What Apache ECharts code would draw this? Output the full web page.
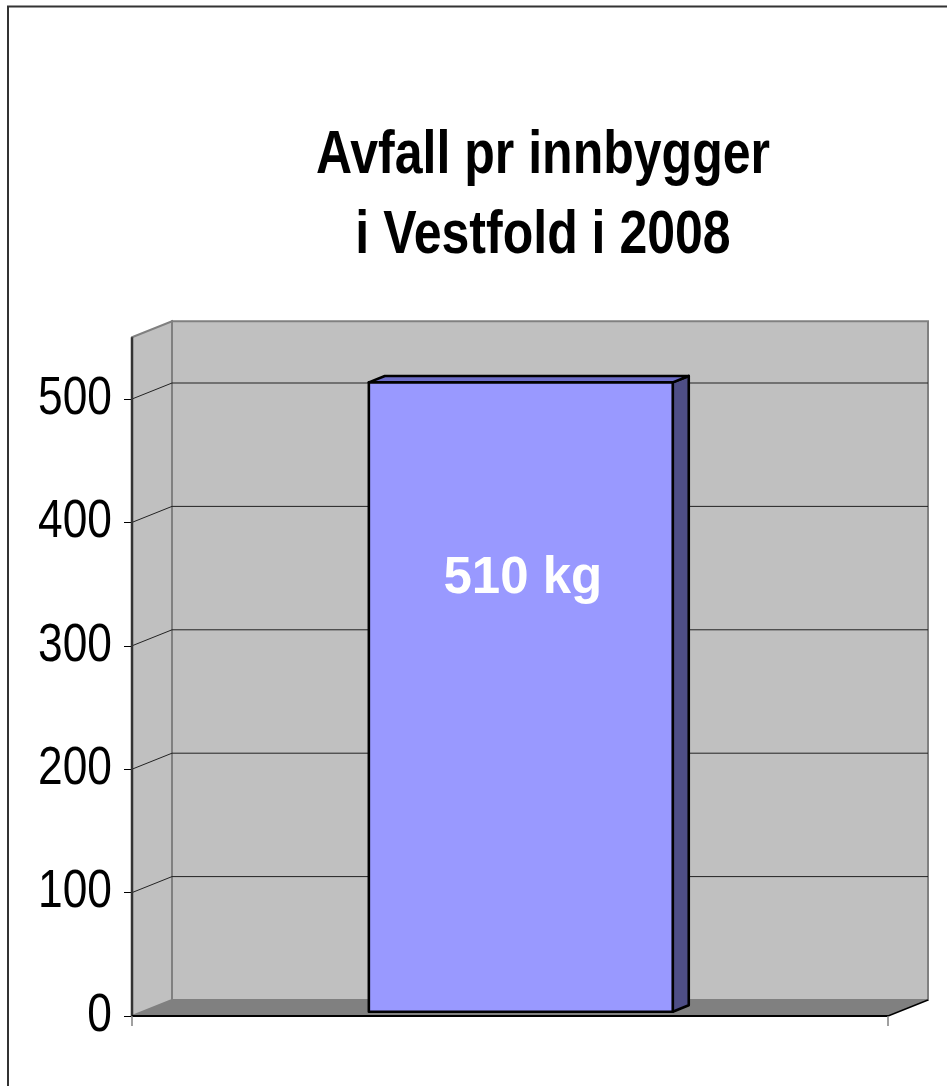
<!DOCTYPE html>
<html>
<head>
<meta charset="utf-8">
<script src="https://cdn.jsdelivr.net/npm/echarts@6/dist/echarts.min.js"></script>
<style>
html,body{margin:0;padding:0;background:#fff;}
#chart{width:947px;height:1086px;}
</style>
</head>
<body>
<div id="chart"></div>
<script>
var titleLines = ['Avfall pr innbygger', 'i Vestfold i 2008'];
var categories = ['Vestfold 2008'];
var values = [510];
var unit = ' kg';
var yTicks = [0, 100, 200, 300, 400, 500];
var yTickLabels = ['0', '100', '200', '300', '400', '500'];
var yMax = 550;

var DEPTH_X = 40, DEPTH_Y = -16;
var NARROW_SCALE = 0.82;
var FONT = "'Liberation Sans', Arial, sans-serif";

var chart = echarts.init(document.getElementById('chart'), null, {renderer: 'canvas'});

function frameRender(params, api) {
  var cs = params.coordSys;
  var x0 = cs.x, x1 = cs.x + cs.width;
  var y0 = api.coord([0, 0])[1];
  var yT = api.coord([0, yMax])[1];
  var dx = DEPTH_X, dy = DEPTH_Y;
  var ch = [];
  // back wall
  ch.push({type: 'rect', shape: {x: x0 + dx, y: yT + dy, width: x1 - x0, height: y0 - yT},
    style: {fill: '#C0C0C0', stroke: '#808080', lineWidth: 2}});
  // side wall
  ch.push({type: 'polygon', shape: {points: [[x0, y0], [x0 + dx, y0 + dy], [x0 + dx, yT + dy], [x0, yT]]},
    style: {fill: '#C0C0C0', stroke: '#808080', lineWidth: 2}});
  // floor
  ch.push({type: 'polygon', shape: {points: [[x0, y0], [x1, y0], [x1 + dx, y0 + dy], [x0 + dx, y0 + dy]]},
    style: {fill: '#808080', stroke: null}});
  // gridlines
  yTicks.forEach(function (v, i) {
    var y = api.coord([0, v])[1];
    if (v !== 0) {
      ch.push({type: 'polyline', shape: {points: [[x0, y], [x0 + dx, y + dy], [x1 + dx, y + dy]]},
        style: {stroke: '#222', lineWidth: 1, fill: null}});
    }
    // tick label (narrow face emulated by horizontal scaling)
    ch.push({type: 'text', x: x0 - 20, y: y, scaleX: NARROW_SCALE,
      style: {text: yTickLabels[i], x: 0, y: 0, align: 'right', verticalAlign: 'middle',
        font: "54px " + FONT, fill: '#000'}});
  });
  // left edge
  ch.push({type: 'line', shape: {x1: x0, y1: yT, x2: x0, y2: y0}, style: {stroke: '#333', lineWidth: 2.5}});
  // front axis
  ch.push({type: 'line', shape: {x1: x0, y1: y0, x2: x1, y2: y0}, style: {stroke: '#000', lineWidth: 2}});
  ch.push({type: 'line', shape: {x1: x1, y1: y0, x2: x1 + dx, y2: y0 + dy}, style: {stroke: '#000', lineWidth: 1.5}});
  // category boundary ticks
  ch.push({type: 'line', shape: {x1: x0, y1: y0, x2: x0, y2: y0 + 10}, style: {stroke: '#808080', lineWidth: 1.5}});
  ch.push({type: 'line', shape: {x1: x1, y1: y0, x2: x1, y2: y0 + 10}, style: {stroke: '#808080', lineWidth: 1.5}});
  return {type: 'group', children: ch};
}

function barRender(params, api) {
  var idx = api.value(0), val = api.value(1);
  var top = api.coord([idx, val]);
  var base = api.coord([idx, 0]);
  var band = api.size([1, 0])[0];
  var w = band * 0.402;
  var fd = 0.27, bd = 0.67;
  var fx = DEPTH_X * fd, fy = DEPTH_Y * fd;
  var bx = DEPTH_X * bd, by = DEPTH_Y * bd;
  var L = top[0] - w / 2 + fx, R = top[0] + w / 2 + fx;
  var T = top[1] + fy, B = base[1] + fy;
  var ox = bx - fx, oy = by - fy;
  var st = {stroke: '#000', lineWidth: 2.6, lineJoin: 'round'};
  return {type: 'group', children: [
    {type: 'polygon', shape: {points: [[R, T], [R + ox, T + oy], [R + ox, B + oy], [R, B]]},
      style: Object.assign({fill: '#4E4E86'}, st)},
    {type: 'polygon', shape: {points: [[L, T], [R, T], [R + ox, T + oy], [L + ox, T + oy]]},
      style: Object.assign({fill: '#6C6CC6'}, st)},
    {type: 'rect', shape: {x: L, y: T, width: R - L, height: B - T},
      style: Object.assign({fill: '#9999FF'}, st)},
    {type: 'text', style: {text: val + unit, x: (L + R) / 2 + 2, y: T + 197,
      fill: '#fff', font: "bold 51px " + FONT,
      align: 'center', verticalAlign: 'middle'}}
  ]};
}

var option = {
  animation: false,
  graphic: [
    {type: 'rect', shape: {x: 8, y: 6.5, width: 1000, height: 1200},
      style: {fill: null, stroke: '#333', lineWidth: 2}, silent: true, z: 100},
    {type: 'text', x: 543, y: 116, scaleX: NARROW_SCALE,
      style: {text: titleLines.join('\n'), x: 0, y: 0,
        font: "bold 61px " + FONT, lineHeight: 80, fill: '#000',
        align: 'center', verticalAlign: 'top'}}
  ],
  grid: {left: 132, right: 59, top: 337.3, bottom: 70, containLabel: false},
  xAxis: {type: 'category', data: categories,
    axisLine: {show: false}, axisTick: {show: false}, axisLabel: {show: false}, splitLine: {show: false}},
  yAxis: {type: 'value', min: 0, max: yMax, interval: 100,
    axisLine: {show: false},
    axisTick: {show: true, length: 8, customValues: yTicks, lineStyle: {color: '#000', width: 1}},
    axisLabel: {show: false},
    splitLine: {show: false}},
  series: [
    {type: 'custom', renderItem: frameRender, data: [[0, yMax]], silent: true, z: 1},
    {type: 'custom', renderItem: barRender,
      encode: {x: 0, y: 1},
      data: values.map(function (v, i) { return [i, v]; }), z: 2}
  ]
};
chart.setOption(option);
</script>
</body>
</html>
